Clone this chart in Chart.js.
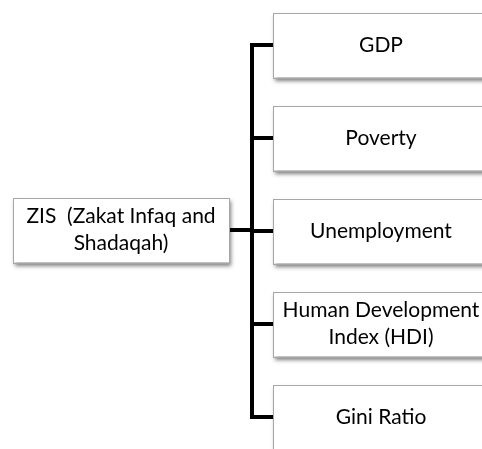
<!DOCTYPE html>
<html>
<head>
<meta charset="utf-8">
<script src="https://cdn.jsdelivr.net/npm/chart.js@4/dist/chart.umd.min.js"></script>
<style>
  html, body { margin: 0; padding: 0; background: #fff; }
  #wrap { width: 482px; height: 449px; position: relative; }
</style>
</head>
<body>
<div id="wrap"><canvas id="diagram"></canvas></div>
<script>
// source node and the outcome nodes it feeds
const sourceLabel = ['ZIS  (Zakat Infaq and', 'Shadaqah)'];
const sourceRow = 230;
const outcomeLabels = [['GDP'], ['Poverty'], ['Unemployment'], ['Human Development', 'Index (HDI)'], ['Gini Ratio']];
const outcomeRows = [45, 138, 231, 324, 417];

const BOX_W = 216, BOX_H = 65;
const SRC_LEFT = 13, OUT_LEFT = 273, SPINE_X = 252;

// connector segments, built from the rows
const connectors = [];
connectors.push({ data: [{ x: SPINE_X, y: outcomeRows[0] }, { x: SPINE_X, y: outcomeRows[outcomeRows.length - 1] }] });
outcomeRows.forEach(r => connectors.push({ data: [{ x: SPINE_X, y: r }, { x: OUT_LEFT, y: r }] }));
connectors.push({ data: [{ x: SRC_LEFT + BOX_W, y: sourceRow }, { x: SPINE_X, y: sourceRow }] });

const boxPlugin = {
  id: 'boxes',
  afterDatasetsDraw(chart) {
    const { ctx, scales: { x, y } } = chart;
    function box(left, row, lines) {
      const x0 = x.getPixelForValue(left), x1 = x.getPixelForValue(left + BOX_W);
      const y0 = y.getPixelForValue(row - BOX_H / 2), y1 = y.getPixelForValue(row + BOX_H / 2);
      ctx.save();
      ctx.shadowColor = 'rgba(0,0,0,0.5)';
      ctx.shadowBlur = 4;
      ctx.shadowOffsetX = 2;
      ctx.shadowOffsetY = 3;
      ctx.fillStyle = '#fff';
      ctx.fillRect(x0, y0, x1 - x0, y1 - y0);
      ctx.restore();
      ctx.save();
      ctx.strokeStyle = '#a6a6a6';
      ctx.lineWidth = 1;
      ctx.strokeRect(Math.round(x0) + 0.5, Math.round(y0) + 0.5, x1 - x0, y1 - y0);
      ctx.fillStyle = '#000';
      ctx.font = '21px Lato, "Open Sans", sans-serif';
      ctx.textAlign = 'center';
      ctx.textBaseline = 'middle';
      const cx = (x0 + x1) / 2, cy = (y0 + y1) / 2, lh = 27;
      lines.forEach((t, i) => ctx.fillText(t, cx, cy + (i - (lines.length - 1) / 2) * lh));
      ctx.restore();
    }
    box(SRC_LEFT, sourceRow, sourceLabel);
    outcomeLabels.forEach((l, i) => box(OUT_LEFT, outcomeRows[i], l));
  }
};

new Chart(document.getElementById('diagram'), {
  type: 'scatter',
  data: {
    datasets: connectors.map(c => ({
      data: c.data,
      showLine: true,
      borderColor: '#000',
      borderWidth: 4,
      pointRadius: 0,
      borderCapStyle: 'square'
    }))
  },
  options: {
    responsive: true,
    maintainAspectRatio: false,
    animation: false,
    layout: { padding: 0 },
    plugins: { legend: { display: false }, tooltip: { enabled: false } },
    scales: {
      x: { type: 'linear', min: 0, max: 482, display: false },
      y: { type: 'linear', min: 0, max: 449, reverse: true, display: false }
    }
  },
  plugins: [boxPlugin]
});
</script>
</body>
</html>
